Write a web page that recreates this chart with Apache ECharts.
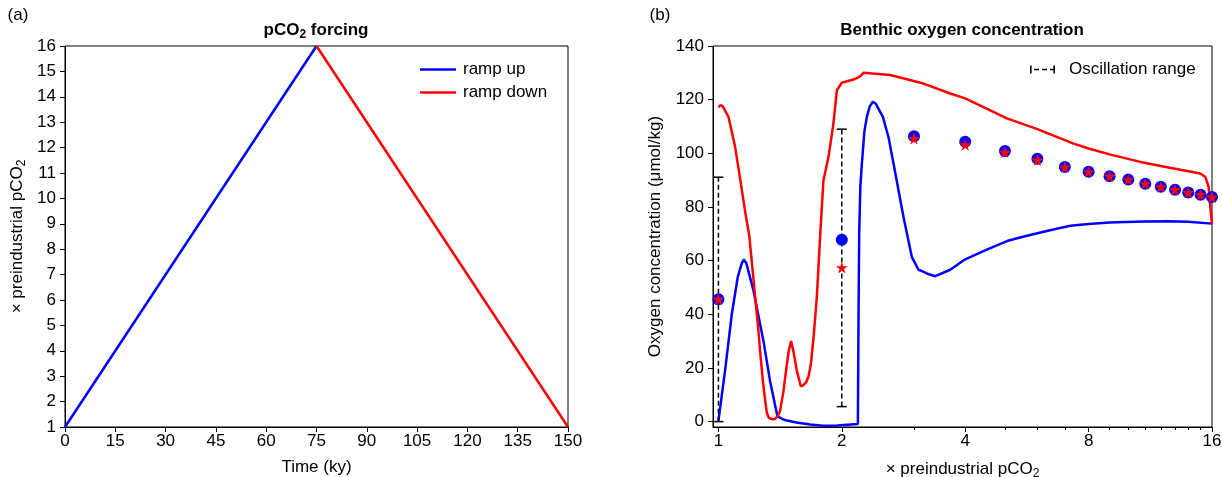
<!DOCTYPE html>
<html>
<head>
<meta charset="utf-8">
<script src="https://cdn.jsdelivr.net/npm/echarts@6/dist/echarts.min.js"></script>
<style>
html,body{margin:0;padding:0;background:#fff;}
#chart{width:1222px;height:477px;}
</style>
</head>
<body>
<div id="chart"></div>
<script>
// ---------- Panel (a): pCO2 forcing ----------
const timeUp = [0, 75];
const forcingUp = [1, 16];
const timeDown = [75, 150];
const forcingDown = [16, 1];

// ---------- Panel (b): benthic oxygen ----------
// ramp up line (x = pCO2 multiple, y = O2 umol/kg)
const upX = [1.0, 1.038, 1.078, 1.115, 1.14, 1.153, 1.17, 1.217, 1.288, 1.337, 1.393, 1.43, 1.469, 1.55, 1.674, 1.8, 1.95, 2.1, 2.189,
             2.197, 2.205, 2.22, 2.238, 2.27, 2.302, 2.34, 2.381, 2.42, 2.46, 2.519, 2.6, 2.674, 2.828, 2.965, 3.076, 3.15, 3.25, 3.38, 3.677,
             4.0, 4.5, 5.06, 5.5, 6.0, 6.6, 7.22, 8.0, 9.0, 10.9, 12.5, 14.0, 16.0];
const upY = [0.3, 19, 40, 54, 59, 60.4, 59, 49, 30, 15, 2, 1, 0.4, -0.3, -1.1, -1.5, -1.4, -1.1, -0.9,
             40, 70, 88, 96, 108, 113.6, 117.5, 119.2, 118.5, 116.5, 113.6, 106, 96.2, 76.3, 61.3, 56.6, 56, 55, 54.2, 56.6,
             60.5, 64, 67.3, 68.8, 70.2, 71.7, 73.0, 73.7, 74.2, 74.6, 74.7, 74.5, 73.8];
// ramp down line
const downX = [1.0, 1.012, 1.025, 1.058, 1.098, 1.131, 1.164, 1.190, 1.208, 1.229, 1.250, 1.269, 1.283, 1.300, 1.312, 1.326, 1.35, 1.375, 1.40, 1.414,
               1.44, 1.462, 1.485, 1.504, 1.525, 1.553, 1.589, 1.61, 1.637, 1.66, 1.681, 1.71, 1.738, 1.774, 1.804, 1.856, 1.908, 1.945,
               2.0, 2.135, 2.217, 2.259, 2.624, 3.165, 3.677, 4.0, 5.056, 6.0, 7.35, 8.0, 9.0, 10.7, 12.0, 13.5, 14.98, 15.41, 15.7, 15.85, 16.0];
const downY = [117.1, 118.0, 117.5, 113.6, 102.5, 90, 77.6, 68.9, 58.5, 46.7, 35, 23.3, 15.5, 8, 3.5, 1.5, 0.9, 1.0, 2.5, 4.1,
               11, 19, 26.5, 30, 26, 19, 13.1, 13.5, 14.7, 17, 21.5, 33, 46.4, 71.3, 90, 98.7, 111.1, 123.5,
               126.3, 127.5, 128.7, 130, 129.2, 126, 122.3, 120.5, 113, 109, 103.6, 101.8, 99.6, 96.8, 95.3, 93.8, 92.5, 91.2, 87.5, 80, 73.8];
// equilibrium / mean markers
const markerX = [1, 2, 3, 4, 5, 6, 7, 8, 9, 10, 11, 12, 13, 14, 15, 16];
const markerUp = [45.6, 67.8, 106.4, 104.3, 100.9, 98.0, 94.9, 93.1, 91.5, 90.2, 88.7, 87.5, 86.4, 85.4, 84.6, 83.7];
const markerDown = [45.6, 57.4, 105.5, 103.2, 100.4, 97.5, 94.9, 93.1, 91.5, 90.2, 88.7, 87.5, 86.4, 85.4, 84.6, 83.7];
// oscillation ranges
const oscX = [1, 2];
const oscLow = [0, 5.6];
const oscHigh = [91.1, 109];
const o2Ticks = [0, 20, 40, 60, 80, 100, 120, 140];
const pco2MajorTicks = [1, 2, 4, 8, 16];
const pco2MinorTicks = [3, 5, 6, 7, 9, 10, 11, 12, 13, 14, 15];

const FONT = 'Liberation Sans, Arial, sans-serif';
const BLUE = '#0000ff', RED = '#ff0000';
const zip = (a, b) => a.map((v, i) => [v, b[i]]);

const chart = echarts.init(document.getElementById('chart'), null, {renderer: 'canvas'});
const SUB = {fontSize: 12, lineHeight: 12, verticalAlign: 'bottom', fontFamily: FONT, color: '#000'};
const axisText = {color: '#000', fontFamily: FONT, fontSize: 17};
const nameText = {color: '#000', fontFamily: FONT, fontSize: 17, lineHeight: 21,
  rich: {s: SUB}};
const STAR = 'path://M50,0 L61.8,35.1 L98.9,35.1 L68.8,57.1 L79.4,92.7 L50,71 L20.6,92.7 L31.2,57.1 L1.1,35.1 L38.2,35.1 Z';
const ERRICON = 'path://M0,0h1.6v8h-1.6z M4,3.3h5v1.4h-5z M12,3.3h5v1.4h-5z M23.4,0h1.6v8h-1.6z M20,3.3h3.4v1.4h-3.4z';

const option = {
  animation: false,
  backgroundColor: '#fff',
  graphic: [
    {type: 'text', x: 18, y: 15, style: {text: '(a)', font: '17px ' + FONT, fill: '#000', align: 'center', verticalAlign: 'middle'}},
    {type: 'text', x: 316, y: 30, style: {text: 'pCO{s|2} forcing', font: 'bold 17px ' + FONT, fill: '#000', align: 'center', verticalAlign: 'middle',
      lineHeight: 21, rich: {s: {fontSize: 12, lineHeight: 12, verticalAlign: 'bottom', fontWeight: 'bold', fontFamily: FONT, fill: '#000'}}}},
    {type: 'text', x: 660, y: 15, style: {text: '(b)', font: '17px ' + FONT, fill: '#000', align: 'center', verticalAlign: 'middle'}},
    {type: 'text', x: 962, y: 30, style: {text: 'Benthic oxygen concentration', font: 'bold 17px ' + FONT, fill: '#000', align: 'center', verticalAlign: 'middle'}}
  ],
  legend: [
    {
      orient: 'vertical', left: 415, top: 56, itemWidth: 36, itemHeight: 2.5, itemGap: 6,
      icon: 'rect', data: ['ramp up', 'ramp down'],
      textStyle: {color: '#000', fontFamily: FONT, fontSize: 17, padding: [0, 0, 0, 2]}
    },
    {
      orient: 'vertical', left: 1025, top: 56, itemWidth: 25, itemHeight: 8,
      data: [{name: 'Oscillation range', icon: ERRICON}],
      textStyle: {color: '#000', fontFamily: FONT, fontSize: 17, padding: [0, 0, 0, 9]}
    }
  ],
  grid: [
    {left: 65, right: 654, top: 46, bottom: 50, show: true, borderColor: '#000', borderWidth: 1, containLabel: false, outerBoundsMode: 'none'},
    {left: 713, right: 10, top: 46, bottom: 50, show: true, borderColor: '#000', borderWidth: 1, containLabel: false, outerBoundsMode: 'none'}
  ],
  xAxis: [
    {
      gridIndex: 0, type: 'value', min: 0, max: 150, interval: 15, position: 'bottom',
      name: 'Time (ky)', nameLocation: 'middle', nameGap: 30, nameTextStyle: nameText,
      axisLine: {show: true, onZero: false, lineStyle: {color: '#000', width: 1}},
      axisTick: {show: true, length: 5, lineStyle: {color: '#000'}},
      axisLabel: Object.assign({margin: 6}, axisText),
      splitLine: {show: false}
    },
    {
      gridIndex: 1, type: 'log', logBase: 2, min: 0.97, max: 16, position: 'bottom',
      name: '× preindustrial pCO{s|2}', nameLocation: 'middle', nameGap: 32, nameTextStyle: nameText,
      axisLine: {show: true, onZero: false, lineStyle: {color: '#000', width: 1}},
      axisTick: {show: true, length: 5, lineStyle: {color: '#000'}, customValues: pco2MajorTicks},
      axisLabel: Object.assign({margin: 6, customValues: pco2MajorTicks, formatter: v => String(Math.round(v))}, axisText),
      splitLine: {show: false}, minorSplitLine: {show: false}
    },
    {
      gridIndex: 1, type: 'log', logBase: 2, min: 0.97, max: 16, position: 'bottom',
      axisLine: {show: false, onZero: false},
      axisTick: {show: true, length: 3, lineStyle: {color: '#000'}, customValues: pco2MinorTicks},
      axisLabel: {show: false},
      splitLine: {show: false}
    }
  ],
  yAxis: [
    {
      gridIndex: 0, type: 'value', min: 1, max: 16, interval: 1, position: 'left',
      name: '× preindustrial pCO{s|2}', nameLocation: 'middle', nameGap: 37, nameTextStyle: nameText,
      axisLine: {show: true, onZero: false, lineStyle: {color: '#000', width: 1}},
      axisTick: {show: true, length: 5, lineStyle: {color: '#000'}},
      axisLabel: Object.assign({margin: 9}, axisText),
      splitLine: {show: false}
    },
    {
      gridIndex: 1, type: 'value', min: -2, max: 140, position: 'left',
      name: 'Oxygen concentration (μmol/kg)', nameLocation: 'middle', nameGap: 47, nameTextStyle: nameText,
      axisLine: {show: true, onZero: false, lineStyle: {color: '#000', width: 1}},
      axisTick: {show: true, length: 5, lineStyle: {color: '#000'}, customValues: o2Ticks},
      axisLabel: Object.assign({margin: 9, customValues: o2Ticks}, axisText),
      splitLine: {show: false}
    }
  ],
  series: [
    {name: 'ramp up', type: 'line', xAxisIndex: 0, yAxisIndex: 0, data: zip(timeUp, forcingUp),
     color: BLUE, lineStyle: {color: BLUE, width: 2.5}, showSymbol: false, symbol: 'none', z: 3},
    {name: 'ramp down', type: 'line', xAxisIndex: 0, yAxisIndex: 0, data: zip(timeDown, forcingDown),
     color: RED, lineStyle: {color: RED, width: 2.5}, showSymbol: false, symbol: 'none', z: 3},
    {name: 'ramp up', type: 'line', xAxisIndex: 1, yAxisIndex: 1, data: zip(upX, upY),
     color: BLUE, lineStyle: {color: BLUE, width: 2.5}, showSymbol: false, symbol: 'none', z: 3},
    {name: 'ramp down', type: 'line', xAxisIndex: 1, yAxisIndex: 1, data: zip(downX, downY),
     color: RED, lineStyle: {color: RED, width: 2.5}, showSymbol: false, symbol: 'none', z: 3},
    {
      name: 'Oscillation range', type: 'custom', xAxisIndex: 1, yAxisIndex: 1,
      data: oscX.map((x, i) => [x, oscLow[i], oscHigh[i]]),
      encode: {x: 0, y: [1, 2]},
      color: '#000', itemStyle: {color: '#000'}, z: 4, clip: false,
      renderItem: function (params, api) {
        const x = api.value(0), lo = api.value(1), hi = api.value(2);
        const pLo = api.coord([x, lo]);
        const pHi = api.coord([x, hi]);
        const hw = 5;
        const solid = {stroke: '#000', lineWidth: 1.5};
        return {
          type: 'group',
          children: [
            {type: 'line', shape: {x1: pLo[0], y1: pLo[1], x2: pHi[0], y2: pHi[1]}, style: {stroke: '#000', lineWidth: 1.5, lineDash: [5, 3]}},
            {type: 'line', shape: {x1: pLo[0] - hw, y1: pLo[1], x2: pLo[0] + hw, y2: pLo[1]}, style: solid},
            {type: 'line', shape: {x1: pHi[0] - hw, y1: pHi[1], x2: pHi[0] + hw, y2: pHi[1]}, style: solid}
          ]
        };
      }
    },
    {name: 'ramp up mean', type: 'scatter', xAxisIndex: 1, yAxisIndex: 1, data: zip(markerX, markerUp),
     symbol: 'circle', symbolSize: 12, itemStyle: {color: BLUE, opacity: 1}, z: 5},
    {name: 'ramp down mean', type: 'scatter', xAxisIndex: 1, yAxisIndex: 1, data: zip(markerX, markerDown),
     symbol: STAR, symbolSize: 12, itemStyle: {color: RED, opacity: 1}, z: 6}
  ]
};
chart.setOption(option);
</script>
</body>
</html>
